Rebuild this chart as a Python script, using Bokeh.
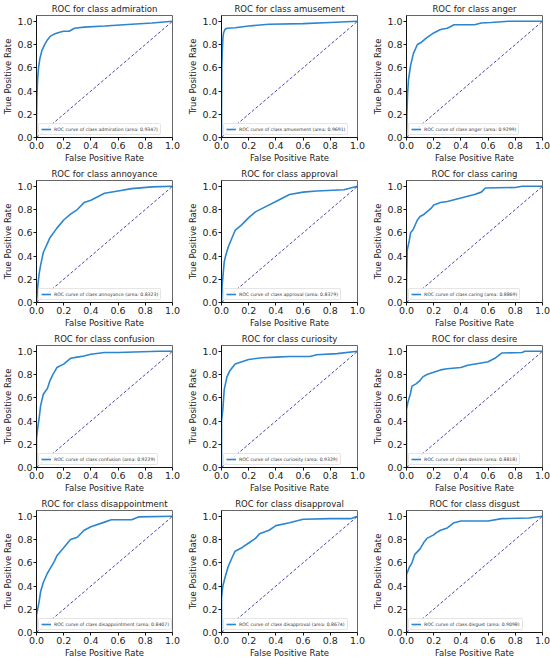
from bokeh.plotting import figure
from bokeh.layouts import gridplot
from bokeh.models import Range1d, FixedTicker, PrintfTickFormatter, Legend, LegendItem
from bokeh.embed import file_html
from bokeh.resources import INLINE

# ---------------- data ----------------
classes = ["admiration", "amusement", "anger",
           "annoyance", "approval", "caring",
           "confusion", "curiosity", "desire",
           "disappointment", "disapproval", "disgust"]
aucs = ["0.9347", "0.9691", "0.9299",
        "0.8323", "0.8379", "0.8869",
        "0.9229", "0.9329", "0.8818",
        "0.8407", "0.8674", "0.9098"]

admiration_fpr = [0, 0, 0.003, 0.008, 0.015, 0.025, 0.04, 0.06, 0.08, 0.10, 0.13, 0.17, 0.20, 0.24, 0.28, 0.35, 0.50, 0.70, 0.85, 1.0]
admiration_tpr = [0, 0.12, 0.35, 0.50, 0.60, 0.68, 0.75, 0.80, 0.84, 0.87, 0.89, 0.905, 0.915, 0.915, 0.94, 0.95, 0.96, 0.975, 0.985, 1.0]

amusement_fpr = [0, 0, 0.002, 0.006, 0.01, 0.015, 0.025, 0.04, 0.10, 0.20, 0.35, 0.60, 0.80, 1.0]
amusement_tpr = [0, 0.25, 0.60, 0.75, 0.85, 0.90, 0.93, 0.94, 0.945, 0.96, 0.975, 0.98, 0.99, 1.0]

anger_fpr = [0, 0.003, 0.008, 0.015, 0.03, 0.05, 0.08, 0.11, 0.15, 0.20, 0.25, 0.30, 0.35, 0.50, 0.55, 0.62, 0.75, 1.0]
anger_tpr = [0, 0.20, 0.38, 0.50, 0.62, 0.72, 0.80, 0.82, 0.86, 0.90, 0.93, 0.94, 0.97, 0.97, 0.985, 0.99, 1.0, 1.0]

annoyance_fpr = [0, 0.005, 0.01, 0.02, 0.03, 0.05, 0.10, 0.15, 0.20, 0.25, 0.30, 0.35, 0.40, 0.50, 0.60, 0.70, 0.85, 1.0]
annoyance_tpr = [0, 0.08, 0.15, 0.25, 0.32, 0.43, 0.56, 0.64, 0.71, 0.76, 0.80, 0.86, 0.88, 0.94, 0.96, 0.98, 0.995, 1.0]

approval_fpr = [0, 0.005, 0.02, 0.03, 0.05, 0.10, 0.15, 0.20, 0.25, 0.30, 0.40, 0.50, 0.60, 0.70, 0.90, 1.0]
approval_tpr = [0, 0.15, 0.35, 0.40, 0.48, 0.62, 0.67, 0.73, 0.78, 0.81, 0.87, 0.93, 0.95, 0.96, 0.97, 1.0]

caring_fpr = [0, 0, 0.005, 0.02, 0.03, 0.05, 0.08, 0.10, 0.13, 0.18, 0.20, 0.25, 0.30, 0.35, 0.40, 0.50, 0.55, 0.58, 0.80, 0.85, 1.0]
caring_tpr = [0, 0.15, 0.45, 0.53, 0.60, 0.63, 0.71, 0.74, 0.76, 0.81, 0.84, 0.86, 0.87, 0.885, 0.90, 0.93, 0.95, 0.985, 0.99, 1.0, 1.0]

confusion_fpr = [0, 0, 0.01, 0.02, 0.03, 0.05, 0.08, 0.10, 0.12, 0.15, 0.20, 0.25, 0.30, 0.35, 0.40, 0.50, 0.60, 0.90, 1.0]
confusion_tpr = [0, 0.25, 0.35, 0.43, 0.53, 0.63, 0.68, 0.75, 0.80, 0.86, 0.89, 0.94, 0.95, 0.96, 0.975, 0.99, 0.99, 1.0, 1.0]

curiosity_fpr = [0, 0, 0.01, 0.02, 0.04, 0.06, 0.10, 0.15, 0.20, 0.30, 0.40, 0.50, 0.65, 0.70, 0.85, 1.0]
curiosity_tpr = [0, 0.40, 0.50, 0.67, 0.78, 0.83, 0.89, 0.91, 0.93, 0.945, 0.95, 0.955, 0.955, 0.97, 0.98, 1.0]

desire_fpr = [0, 0, 0.01, 0.03, 0.04, 0.07, 0.10, 0.12, 0.15, 0.20, 0.25, 0.30, 0.40, 0.45, 0.55, 0.60, 0.65, 0.70, 0.85, 0.87, 1.0]
desire_tpr = [0, 0.50, 0.56, 0.64, 0.70, 0.72, 0.75, 0.78, 0.80, 0.82, 0.84, 0.85, 0.86, 0.88, 0.90, 0.91, 0.94, 0.985, 0.99, 1.0, 1.0]

disappointment_fpr = [0, 0, 0.02, 0.03, 0.05, 0.08, 0.10, 0.13, 0.15, 0.20, 0.25, 0.30, 0.35, 0.40, 0.50, 0.55, 0.70, 0.75, 1.0]
disappointment_tpr = [0, 0.15, 0.27, 0.35, 0.43, 0.51, 0.55, 0.61, 0.66, 0.73, 0.80, 0.82, 0.88, 0.91, 0.95, 0.97, 0.97, 0.995, 1.0]

disapproval_fpr = [0, 0, 0.01, 0.03, 0.05, 0.08, 0.10, 0.15, 0.20, 0.25, 0.28, 0.35, 0.40, 0.50, 0.60, 0.80, 0.95, 1.0]
disapproval_tpr = [0, 0.30, 0.40, 0.49, 0.57, 0.65, 0.70, 0.73, 0.77, 0.81, 0.85, 0.88, 0.92, 0.945, 0.975, 0.98, 0.98, 1.0]

disgust_fpr = [0, 0, 0.02, 0.04, 0.06, 0.10, 0.13, 0.15, 0.20, 0.22, 0.25, 0.30, 0.35, 0.40, 0.60, 0.70, 0.90, 1.0]
disgust_tpr = [0, 0.50, 0.56, 0.60, 0.67, 0.72, 0.78, 0.81, 0.84, 0.86, 0.88, 0.90, 0.945, 0.96, 0.96, 0.98, 0.985, 1.0]

chance_fpr = [0.0, 1.0]
chance_tpr = [0.0, 1.0]
axis_ticks = [0.0, 0.2, 0.4, 0.6, 0.8, 1.0]

curves = {
    "admiration": (admiration_fpr, admiration_tpr),
    "amusement": (amusement_fpr, amusement_tpr),
    "anger": (anger_fpr, anger_tpr),
    "annoyance": (annoyance_fpr, annoyance_tpr),
    "approval": (approval_fpr, approval_tpr),
    "caring": (caring_fpr, caring_tpr),
    "confusion": (confusion_fpr, confusion_tpr),
    "curiosity": (curiosity_fpr, curiosity_tpr),
    "desire": (desire_fpr, desire_tpr),
    "disappointment": (disappointment_fpr, disappointment_tpr),
    "disapproval": (disapproval_fpr, disapproval_tpr),
    "disgust": (disgust_fpr, disgust_tpr),
}

FONT = "DejaVu Sans"
CURVE_COLOR = "#2b86cf"
DIAG_COLOR = "#2f2fa8"

figs = []
for cls, auc in zip(classes, aucs):
    fpr, tpr = curves[cls]
    p = figure(frame_width=136, frame_height=122,
               x_range=Range1d(0, 1.0), y_range=Range1d(0, 1.05),
               title=f"ROC for class {cls}",
               x_axis_label="False Positive Rate", y_axis_label="True Positive Rate",
               output_backend="svg", toolbar_location=None,
               min_border_left=0, min_border_right=13, min_border_top=0, min_border_bottom=0)
    p.xgrid.visible = False
    p.ygrid.visible = False
    p.outline_line_color = "#666666"
    p.background_fill_color = "white"
    p.border_fill_color = "white"

    p.title.text_font = FONT
    p.title.text_font_size = "8.5px"
    p.title.text_font_style = "normal"
    p.title.text_color = "#222222"
    p.title.align = "center"
    p.title.standoff = 3
    p.title.offset = 0

    for ax in (p.xaxis[0], p.yaxis[0]):
        ax.ticker = FixedTicker(ticks=axis_ticks)
        ax.formatter = PrintfTickFormatter(format="%.1f")
        ax.major_label_text_font = FONT
        ax.major_label_text_font_size = "9.5px"
        ax.major_label_text_color = "#222222"
        ax.axis_label_text_font = FONT
        ax.axis_label_text_font_size = "8.5px"
        ax.axis_label_text_font_style = "normal"
        ax.axis_label_text_color = "#222222"
        ax.axis_label_standoff = 1
        ax.major_label_standoff = 1
        ax.major_tick_out = 3
        ax.major_tick_in = 0
        ax.minor_tick_out = 0
        ax.minor_tick_in = 0
        ax.axis_line_color = "#111111"
        ax.major_tick_line_color = "#111111"

    r = p.line(fpr, tpr, line_color=CURVE_COLOR, line_width=1.6)
    p.line(chance_fpr, chance_tpr, line_color=DIAG_COLOR, line_width=0.9, line_dash="3 2")

    legend = Legend(items=[LegendItem(label=f"ROC curve of class {cls} (area: {auc})", renderers=[r])],
                    location="bottom_left")
    legend.label_text_font = FONT
    legend.label_text_font_size = "4.6px"
    legend.label_text_color = "#333333"
    legend.glyph_width = 10
    legend.glyph_height = 6
    legend.label_standoff = 3
    legend.label_height = 6
    legend.padding = 2
    legend.spacing = 0
    legend.margin = 2
    legend.border_line_color = "#cccccc"
    legend.border_radius = 2
    legend.background_fill_alpha = 0.85
    p.add_layout(legend)
    figs.append(p)

grid = gridplot(figs, ncols=3, toolbar_location=None)

open("out.html", "w").write(file_html(grid, INLINE))
